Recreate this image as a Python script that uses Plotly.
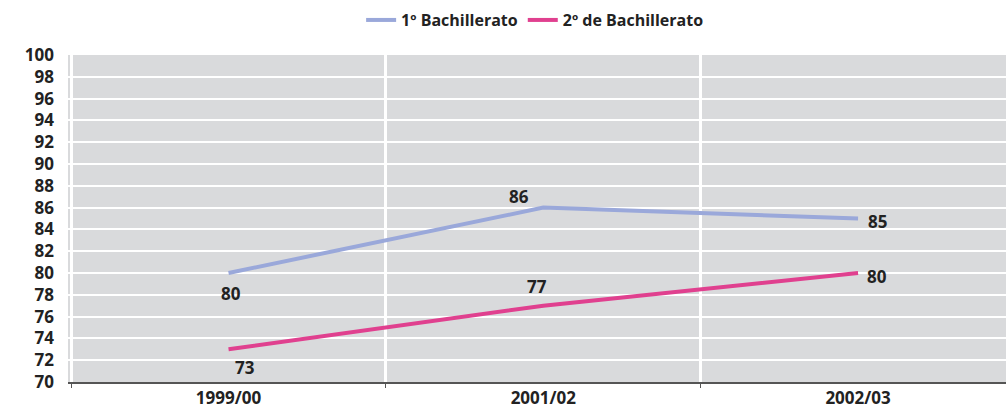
import plotly.graph_objects as go

categories = ["1999/00", "2001/02", "2002/03"]
serie1_name = "1º Bachillerato"
serie1 = [80, 86, 85]
serie2_name = "2º de Bachillerato"
serie2 = [73, 77, 80]
y_ticks = list(range(70, 101, 2))

blue = "#9aa8da"
pink = "#e0408f"
txt = "#222222"
font_family = "Open Sans"

fig = go.Figure()
fig.add_trace(go.Scatter(x=categories, y=serie1, name=serie1_name, mode="lines",
                         line=dict(color=blue, width=4), hoverinfo="skip"))
fig.add_trace(go.Scatter(x=categories, y=serie2, name=serie2_name, mode="lines",
                         line=dict(color=pink, width=4), hoverinfo="skip"))

# label offsets (pixels) per point
off1 = [(2, -20), (-24, 11), (19, -3)]
off2 = [(16, -18), (-6, 19), (19, -3)]
for cat, v, (dx, dy) in zip(categories, serie1, off1):
    fig.add_annotation(x=cat, y=v, text=str(v), showarrow=False, xshift=dx, yshift=dy,
                       font=dict(family=font_family, size=17, color=txt, weight="bold"))
for cat, v, (dx, dy) in zip(categories, serie2, off2):
    fig.add_annotation(x=cat, y=v, text=str(v), showarrow=False, xshift=dx, yshift=dy,
                       font=dict(family=font_family, size=17, color=txt, weight="bold"))

fig.update_layout(
    width=1006, height=409,
    margin=dict(l=68, r=0, t=55, b=27, autoexpand=False),
    paper_bgcolor="white",
    plot_bgcolor="#d9dadc",
    font=dict(family=font_family, size=15, color=txt, weight="bold"),
    showlegend=True,
    legend=dict(orientation="h", x=0.498, xanchor="center", y=0.951, yanchor="middle",
                yref="container", font=dict(size=16, weight="bold"), itemwidth=30,
                bgcolor="rgba(0,0,0,0)"),
    xaxis=dict(type="category", range=[-0.51, 2.47], tickson="boundaries",
               showgrid=True, gridcolor="white", gridwidth=3, automargin=False,
               showline=True, linecolor="#555555", linewidth=2,
               ticks="outside", ticklen=4, tickcolor="#555555",
               tickfont=dict(size=17, weight="bold")),
    yaxis=dict(range=[70, 100], tickvals=y_ticks, showgrid=True, gridcolor="white",
               gridwidth=2, zeroline=False, showline=False, ticks="", automargin=False,
               ticklabelstandoff=13, tickfont=dict(size=17, weight="bold")),
)

fig.write_html("out.html", config={"displayModeBar": False},
               post_script="document.body.style.margin='0';document.body.style.overflow='hidden';")
